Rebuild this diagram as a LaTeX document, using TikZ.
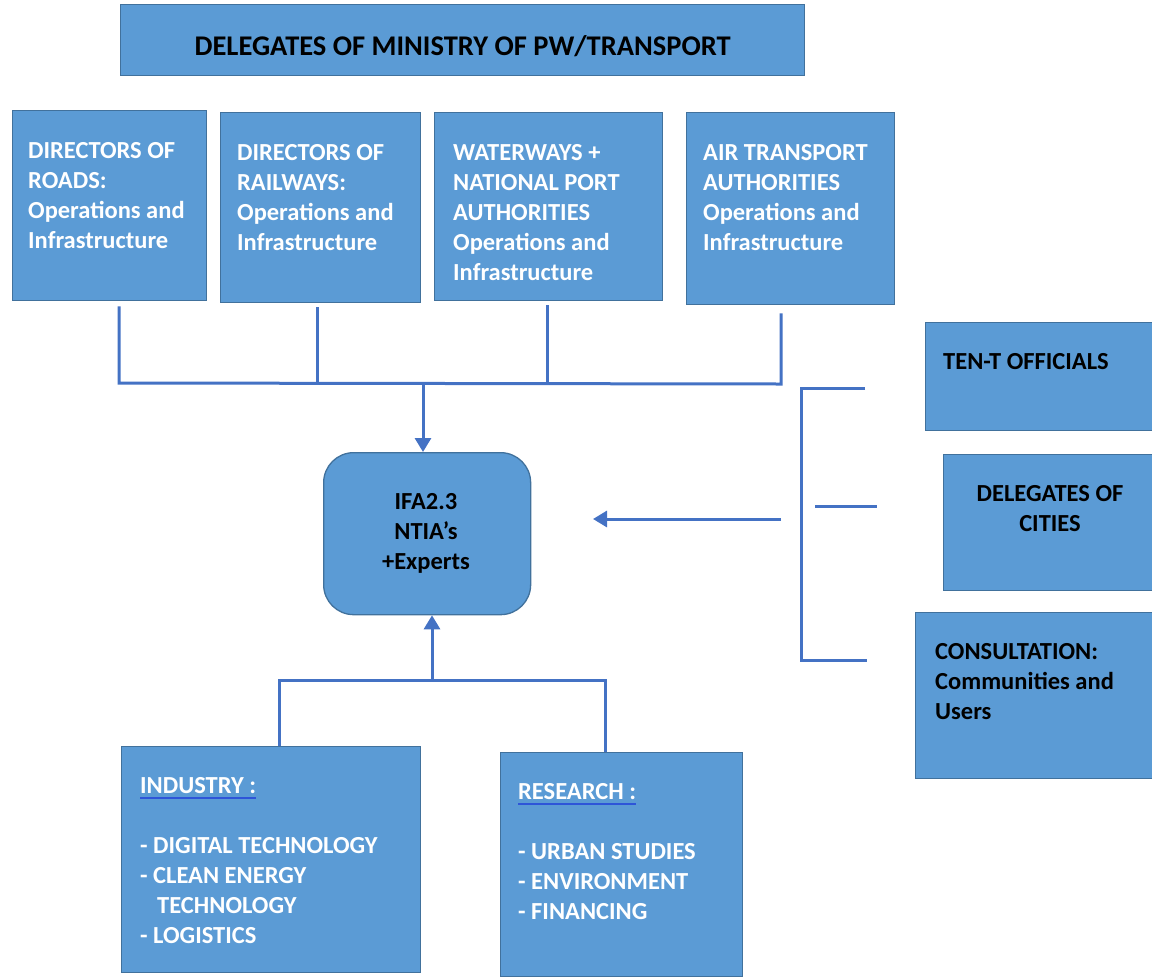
\documentclass[tikz,border=0pt]{standalone}
\usepackage{fontspec}
\setmainfont{Carlito}
\usetikzlibrary{arrows.meta}
\definecolor{boxfill}{HTML}{5B9BD5}
\definecolor{boxline}{HTML}{41719C}
\definecolor{conncol}{HTML}{4472C4}
\definecolor{ulcol}{HTML}{2E55D8}
\begin{document}
\begin{tikzpicture}[x=1pt,y=-1pt,
  box/.style={draw=boxline, line width=1.3pt, fill=boxfill, inner sep=0pt, anchor=north west},
  lbl/.style={inner sep=0pt, anchor=north west, align=left, font=\bfseries\fontsize{24.5}{30}\selectfont},
  wlbl/.style={lbl, text=white},
  blbl/.style={lbl, text=black},
  conn/.style={draw=conncol, line width=3pt},
  arr/.style={conn, -{Triangle[width=16pt,length=14pt]}}
]
\useasboundingbox (0,0) rectangle (1152,978);

% boxes
\node[box, minimum width=684pt, minimum height=71pt] (top) at (120,4) {};
\node[box, minimum width=194pt, minimum height=190pt] (roads) at (12,110) {};
\node[box, minimum width=200pt, minimum height=190pt] (rail) at (220,112) {};
\node[box, minimum width=228pt, minimum height=188pt] (water) at (434,112) {};
\node[box, minimum width=208pt, minimum height=192pt] (air) at (686,112) {};
\node[box, minimum width=207pt, minimum height=162pt, rounded corners=30pt] (ifa) at (323,452) {};
\node[box, minimum width=235pt, minimum height=108pt] (tent) at (925,322) {};
\node[box, minimum width=215pt, minimum height=136pt] (cities) at (943,454) {};
\node[box, minimum width=245pt, minimum height=166pt] (consult) at (915,612) {};
\node[box, minimum width=299pt, minimum height=226pt] (industry) at (121,746) {};
\node[box, minimum width=242pt, minimum height=224pt] (research) at (500,752) {};

% texts
\node[inner sep=0pt, font=\bfseries\fontsize{28.5}{30}\selectfont] (toptxt) at ([yshift=-6pt]top.center) {DELEGATES OF MINISTRY OF PW/TRANSPORT};
\node[wlbl] (roadstxt) at (28,142) {DIRECTORS OF\\ROADS:\\Operations and\\Infrastructure};
\node[wlbl] (railtxt) at (237,144) {DIRECTORS OF\\RAILWAYS:\\Operations and\\Infrastructure};
\node[wlbl] (watertxt) at (453,144) {WATERWAYS +\\NATIONAL PORT\\AUTHORITIES\\Operations and\\Infrastructure};
\node[wlbl] (airtxt) at (703,144) {AIR TRANSPORT\\AUTHORITIES\\Operations and\\Infrastructure};
\node[inner sep=0pt, anchor=center, align=center, font=\bfseries\fontsize{24.5}{30}\selectfont] (ifatxt) at (426,533) {IFA2.3\\NTIA’s\\+Experts};
\node[blbl] (tenttxt) at (943,353) {TEN-T OFFICIALS};
\node[inner sep=0pt, anchor=north, align=center, font=\bfseries\fontsize{24.5}{30}\selectfont] (citiestxt) at (1050,485) {DELEGATES OF\\CITIES};
\node[blbl] (consulttxt) at (935,643) {CONSULTATION:\\Communities and\\Users};
\node[wlbl] (indhead) at (140,777) {INDUSTRY :};
\draw[draw=ulcol, line width=1.8pt] ([yshift=-4pt]indhead.south west) -- ([yshift=-4pt]indhead.south east);
\node[wlbl] (indtxt) at (140,837) {- DIGITAL TECHNOLOGY\\- CLEAN ENERGY\\\hspace*{17pt}TECHNOLOGY\\- LOGISTICS};
\node[wlbl] (reshead) at (518,783) {RESEARCH :};
\draw[draw=ulcol, line width=1.8pt] ([yshift=-4pt]reshead.south west) -- ([yshift=-4pt]reshead.south east);
\node[wlbl] (restxt) at (518,843) {- URBAN STUDIES\\- ENVIRONMENT\\- FINANCING};

% upper bus
\coordinate (busL) at (119,383);
\coordinate (busR) at (781,384);
\coordinate (busM) at (423,384);
\draw[conn] ([yshift=-5pt]roads.south -| busL) -- (busL) -- (busR) -- ([yshift=-8pt]air.south -| busR);
\draw[conn] ([xshift=-3pt,yshift=-4pt]rail.south) -- ([xshift=-3pt]rail.south |- busL);
\draw[conn] ([xshift=-1pt,yshift=-4pt]water.south) -- ([xshift=-1pt]water.south |- busL);
\draw[arr] (busM) -- (busM |- ifa.north);

% right side
\coordinate (rstart) at (781,519);
\coordinate (rend) at (593,519);
\draw[arr] (rstart) -- (rend);
\coordinate (brT) at (801,388);
\coordinate (brB) at (801,660);
\coordinate (brTe) at (865,388);
\coordinate (brBe) at (867,660);
\coordinate (brMs) at (815,506);
\coordinate (brMe) at (877,506);
\draw[conn] (brTe) -- (brT) -- (brB) -- (brBe);
\draw[conn] (brMs) -- (brMe);

% lower bus
\coordinate (bl) at (279,680);
\coordinate (br) at (605,680);
\coordinate (bj) at (432,680);
\draw[conn] (bl |- industry.north) -- (bl) -- (br) -- (br |- research.north);
\draw[arr] (bj) -- (bj |- ifa.south);
\end{tikzpicture}
\end{document}
